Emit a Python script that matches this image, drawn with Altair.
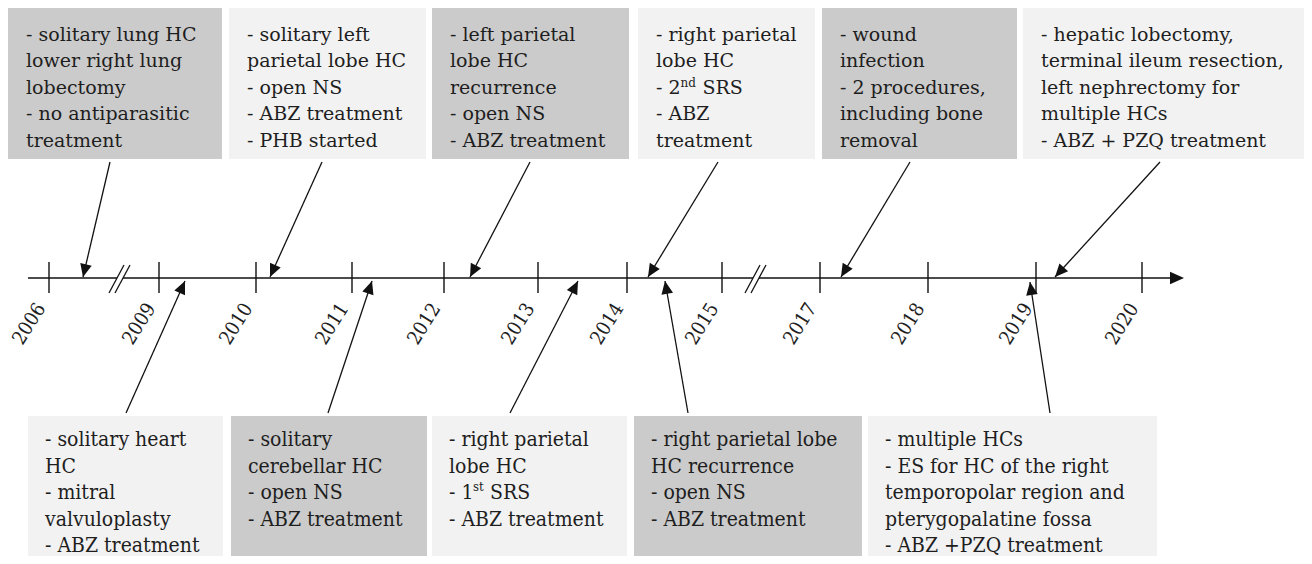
import math
import altair as alt
import pandas as pd

# ---------------- data ----------------
YEARS = ["2006", "2009", "2010", "2011", "2012", "2013", "2014",
         "2015", "2017", "2018", "2019", "2020"]

TOP_EVENTS = [
    ["- solitary lung HC", "lower right lung", "lobectomy", "- no antiparasitic", "treatment"],
    ["- solitary left", "parietal lobe HC", "- open NS", "- ABZ treatment", "- PHB started"],
    ["- left parietal", "lobe HC", "recurrence", "- open NS", "- ABZ treatment"],
    ["- right parietal", "lobe HC", "- 2^nd SRS", "- ABZ", "treatment"],
    ["- wound", "infection", "- 2 procedures,", "including bone", "removal"],
    ["- hepatic lobectomy,", "terminal ileum resection,", "left nephrectomy for",
     "multiple HCs", "- ABZ + PZQ treatment"],
]

BOTTOM_EVENTS = [
    ["- solitary heart", "HC", "- mitral", "valvuloplasty", "- ABZ treatment"],
    ["- solitary", "cerebellar HC", "- open NS", "- ABZ treatment"],
    ["- right parietal", "lobe HC", "- 1^st SRS", "- ABZ treatment"],
    ["- right parietal lobe", "HC recurrence", "- open NS", "- ABZ treatment"],
    ["- multiple HCs", "- ES for HC of the right", "temporopolar region and",
     "pterygopalatine fossa", "- ABZ +PZQ treatment"],
]

# ---------------- layout (pixel positions of the schematic) ----------------
W, H = 1296, 548
TOP_BOX_X = [(8, 222), (229, 426), (432, 629), (638, 815), (822, 1017), (1023, 1312)]
TOP_SHADE = ["#cbcbcb", "#f2f2f2", "#cbcbcb", "#f2f2f2", "#cbcbcb", "#f2f2f2"]
TOP_BOX_Y = (8, 159)
BOT_BOX_X = [(28, 223), (231, 427), (432, 627), (634, 862), (868, 1157)]
BOT_SHADE = ["#f2f2f2", "#cbcbcb", "#f2f2f2", "#cbcbcb", "#f2f2f2"]
BOT_BOX_Y = (416, 570)

TICK_X = [49, 159, 256, 352, 444, 538, 627, 722, 820, 928, 1036, 1142]
AXIS_Y = 278
TOP_ARROWS = [((110, 162), (83, 277)), ((322, 162), (270, 277)), ((530, 162), (470, 277)),
              ((718, 162), (648, 277)), ((910, 162), (841, 277)), ((1160, 162), (1055, 277))]
BOT_ARROWS = [((126, 413), (185, 281)), ((328, 413), (372, 281)), ((510, 413), (578, 281)),
              ((688, 413), (665, 281)), ((1050, 413), (1030, 282))]

TOP_FONT, TOP_SIZE, TOP_LEAD, TOP_BASE, TOP_PAD = "DejaVu Serif", 19, 26.5, 40.5, 18
BOT_FONT, BOT_SIZE, BOT_LEAD, BOT_BASE, BOT_PAD = "DejaVu Serif Condensed", 21, 26.6, 446, 17
TEXT_COLOR = "#1e1e1e"
HEAD = "M0,0L-0.45,1L0.45,1Z"

# ---------------- build tables ----------------
boxes = []
for (x0, x1), c in zip(TOP_BOX_X, TOP_SHADE):
    boxes.append(dict(x=x0, x2=x1, y=TOP_BOX_Y[0], y2=TOP_BOX_Y[1], c=c))
for (x0, x1), c in zip(BOT_BOX_X, BOT_SHADE):
    boxes.append(dict(x=x0, x2=x1, y=BOT_BOX_Y[0], y2=BOT_BOX_Y[1], c=c))
boxes = pd.DataFrame(boxes)

# superscript: width of prefix, width of raised part + space, raised size, rise (px)
SUP = {"top": (24.5, 22.0, 12, 7), "bot": (24.0, 17.0, 13, 8)}


def text_rows(events, box_x, base, lead, pad, key):
    main, sup = [], []
    for lines, (x0, _) in zip(events, box_x):
        for i, line in enumerate(lines):
            y = base + i * lead
            if "^" in line:
                pre, rest = line.split("^")
                s, post = rest[:2], rest[2:].strip()
                w_pre, w_sup, fs, rise = SUP[key]
                main.append(dict(x=x0 + pad, y=y, t=pre))
                sup.append(dict(x=x0 + pad + w_pre, y=y - rise, t=s, fs=fs))
                main.append(dict(x=x0 + pad + w_pre + w_sup, y=y, t=post))
            else:
                main.append(dict(x=x0 + pad, y=y, t=line))
    return pd.DataFrame(main), sup


top_txt, top_sup = text_rows(TOP_EVENTS, TOP_BOX_X, TOP_BASE, TOP_LEAD, TOP_PAD, "top")
bot_txt, bot_sup = text_rows(BOTTOM_EVENTS, BOT_BOX_X, BOT_BASE, BOT_LEAD, BOT_PAD, "bot")
top_sup = pd.DataFrame(top_sup)
bot_sup = pd.DataFrame(bot_sup)

segs = []
# axis line with two breaks
for a, b in [(28, 117), (123, 753), (759, 1172)]:
    segs.append(dict(x=a, y=AXIS_Y, x2=b, y2=AXIS_Y, w=1.6))
# break slashes
for a, b in [(109, 124), (115, 130), (745, 760), (751, 766)]:
    segs.append(dict(x=a, y=293, x2=b, y2=265, w=1.3))
# ticks
for tx in TICK_X:
    segs.append(dict(x=tx, y=262, x2=tx, y2=293, w=1.4))
# arrow shafts
heads = []
for (t0, t1) in TOP_ARROWS + BOT_ARROWS:
    segs.append(dict(x=t0[0], y=t0[1], x2=t1[0], y2=t1[1], w=1.3))
    dx, dy = t1[0] - t0[0], t1[1] - t0[1]
    ang = math.degrees(math.atan2(dx, -dy)) % 360
    heads.append(dict(x=t1[0], y=t1[1], a=ang, s=676))
heads.append(dict(x=1184, y=AXIS_Y, a=90, s=784))
segs = pd.DataFrame(segs)
heads = pd.DataFrame(heads)

years = pd.DataFrame(dict(x=[t - 8 for t in TICK_X], y=[305] * len(TICK_X), t=YEARS))

# ---------------- chart ----------------
X = alt.Scale(domain=[8, 8 + W], range=[0, W], zero=False, nice=False)
Y = alt.Scale(domain=[8, 8 + H], range=[0, H], zero=False, nice=False)


def xx(f="x"):
    return alt.X(f + ":Q", scale=X, axis=None)


def yy(f="y"):
    return alt.Y(f + ":Q", scale=Y, axis=None)


rects = alt.Chart(boxes).mark_rect(strokeWidth=0).encode(
    x=xx(), x2="x2:Q", y=yy(), y2="y2:Q", color=alt.Color("c:N", scale=None))

rules = alt.Chart(segs).mark_rule(color="#111111").encode(
    x=xx(), x2="x2:Q", y=yy(), y2="y2:Q", strokeWidth=alt.StrokeWidth("w:Q", scale=None))

arrowheads = alt.Chart(heads).mark_point(shape=HEAD, filled=True, color="#111111",
                                         opacity=1, strokeWidth=0).encode(
    x=xx(), y=yy(), angle=alt.Angle("a:Q", scale=None), size=alt.Size("s:Q", scale=None))

t_top = alt.Chart(top_txt).mark_text(align="left", baseline="alphabetic", font=TOP_FONT,
                                     fontSize=TOP_SIZE, color=TEXT_COLOR).encode(
    x=xx(), y=yy(), text="t:N")
t_top_sup = alt.Chart(top_sup).mark_text(align="left", baseline="alphabetic", font=TOP_FONT,
                                         color=TEXT_COLOR).encode(
    x=xx(), y=yy(), text="t:N", size=alt.Size("fs:Q", scale=None))
t_bot = alt.Chart(bot_txt).mark_text(align="left", baseline="alphabetic", font=BOT_FONT,
                                     fontSize=BOT_SIZE, color=TEXT_COLOR).encode(
    x=xx(), y=yy(), text="t:N")
t_bot_sup = alt.Chart(bot_sup).mark_text(align="left", baseline="alphabetic", font=BOT_FONT,
                                         color=TEXT_COLOR).encode(
    x=xx(), y=yy(), text="t:N", size=alt.Size("fs:Q", scale=None))
t_years = alt.Chart(years).mark_text(align="right", baseline="middle", angle=302,
                                     font="DejaVu Serif Condensed", fontSize=19.5,
                                     color=TEXT_COLOR).encode(
    x=xx(), y=yy(), text="t:N")

chart = alt.layer(rects, rules, arrowheads, t_top, t_top_sup, t_bot, t_bot_sup, t_years).properties(
    width=W, height=H, autosize=alt.AutoSizeParams(type="none"), padding=0
).configure_view(stroke=None)

chart.save("out.html", embed_options={"renderer": "svg", "actions": False})
